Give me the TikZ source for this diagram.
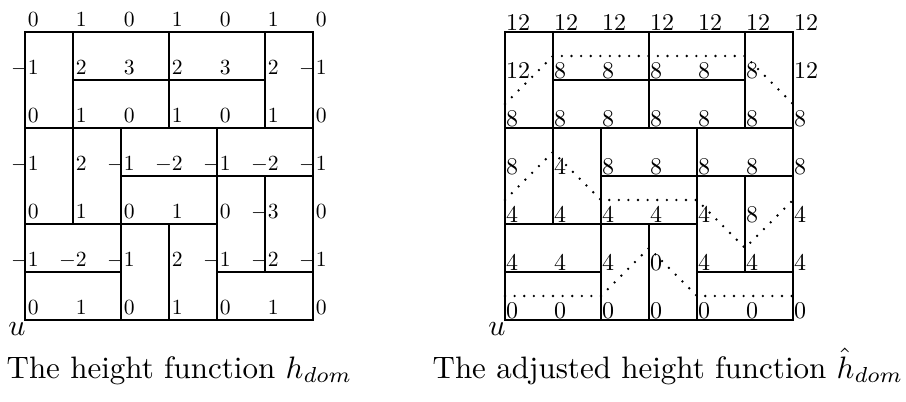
\documentclass[tikz,border=0pt]{standalone}
\usepackage{amsmath}
\newcommand{\hmn}[1]{\makebox[0pt][r]{$-$}#1}
\tikzset{
  gridline/.style={line width=0.9pt},
  lab/.style={anchor=base west, inner sep=0pt, xshift=1.25pt, yshift=2.5pt, font=\fontsize{10}{12}\selectfont, scale=1.08, transform shape},
  rlab/.style={anchor=base west, inner sep=0pt, xshift=0.3pt, yshift=0.6pt, font=\fontsize{10}{12}\selectfont, scale=1.2, transform shape},
  ulab/.style={anchor=north east, inner sep=0pt, xshift=0.6pt, yshift=-0.8pt, font=\fontsize{10}{12}\selectfont, scale=1.5, transform shape},
  contour/.style={line width=1.3pt, line cap=round, dash pattern=on 0pt off 4.8pt},
  captext/.style={anchor=base west, inner sep=0pt, font=\fontsize{10}{12}\selectfont, scale=1.55, transform shape}
}
\newcommand{\tiling}{%
  \draw[gridline] (0,0) rectangle (6,6);
  \draw[gridline] (1,2)--(1,6) (3,4)--(3,6) (5,4)--(5,6) (1,5)--(5,5)
    (0,4)--(6,4) (2,0)--(2,4) (4,0)--(4,4) (2,3)--(6,3)
    (0,2)--(4,2) (3,0)--(3,2) (5,1)--(5,3) (0,1)--(2,1) (4,1)--(6,1);
}
\begin{document}
\begin{tikzpicture}
\useasboundingbox (0,0) rectangle (453pt,201pt);
% left grid
\begin{scope}[shift={(12.5pt,41pt)}, x=24pt, y=24pt]
  \tiling
  \foreach \v [count=\i from 0] in {0,1,0,1,0,1,0} \node[lab] (l\i6) at (\i,6) {\v};
  \foreach \v [count=\i from 0] in {\hmn1,2,3,2,3,2,\hmn1} \node[lab] (l\i5) at (\i,5) {\v};
  \foreach \v [count=\i from 0] in {0,1,0,1,0,1,0} \node[lab] (l\i4) at (\i,4) {\v};
  \foreach \v [count=\i from 0] in {\hmn1,2,\hmn1,\hmn2,\hmn1,\hmn2,\hmn1} \node[lab] (l\i3) at (\i,3) {\v};
  \foreach \v [count=\i from 0] in {0,1,0,1,0,\hmn3,0} \node[lab] (l\i2) at (\i,2) {\v};
  \foreach \v [count=\i from 0] in {\hmn1,\hmn2,\hmn1,2,\hmn1,\hmn2,\hmn1} \node[lab] (l\i1) at (\i,1) {\v};
  \foreach \v [count=\i from 0] in {0,1,0,1,0,1,0} \node[lab] (l\i0) at (\i,0) {\v};
  \node[ulab] (lu) at (0,0) {$u$};
\end{scope}
% right grid
\begin{scope}[shift={(252.5pt,41pt)}, x=24pt, y=24pt]
  \tiling
  \draw[contour] (0,4.5) -- (1,5.5) -- (5,5.5) -- (6,4.5);
  \draw[contour] (0,2.5) -- (1,3.5) -- (2,2.5) -- (4,2.5) -- (5,1.5) -- (6,2.5);
  \draw[contour] (0,0.5) -- (2,0.5) -- (3,1.5) -- (4,0.5) -- (6,0.5);
  \foreach \v [count=\i from 0] in {12,12,12,12,12,12,12} \node[rlab] (r\i6) at (\i,6) {\v};
  \foreach \v [count=\i from 0] in {12,8,8,8,8,8,12} \node[rlab] (r\i5) at (\i,5) {\v};
  \foreach \v [count=\i from 0] in {8,8,8,8,8,8,8} \node[rlab] (r\i4) at (\i,4) {\v};
  \foreach \v [count=\i from 0] in {8,4,8,8,8,8,8} \node[rlab] (r\i3) at (\i,3) {\v};
  \foreach \v [count=\i from 0] in {4,4,4,4,4,8,4} \node[rlab] (r\i2) at (\i,2) {\v};
  \foreach \v [count=\i from 0] in {4,4,4,0,4,4,4} \node[rlab] (r\i1) at (\i,1) {\v};
  \foreach \v [count=\i from 0] in {0,0,0,0,0,0,0} \node[rlab] (r\i0) at (\i,0) {\v};
  \node[ulab] (ru) at (0,0) {$u$};
\end{scope}
% captions
\node[captext] (capl) at (3pt,12pt) {The height function $h_{dom}$};
\node[captext] (capr) at (216pt,12pt) {The adjusted height function $\hat{h}_{dom}$};
\end{tikzpicture}
\end{document}
